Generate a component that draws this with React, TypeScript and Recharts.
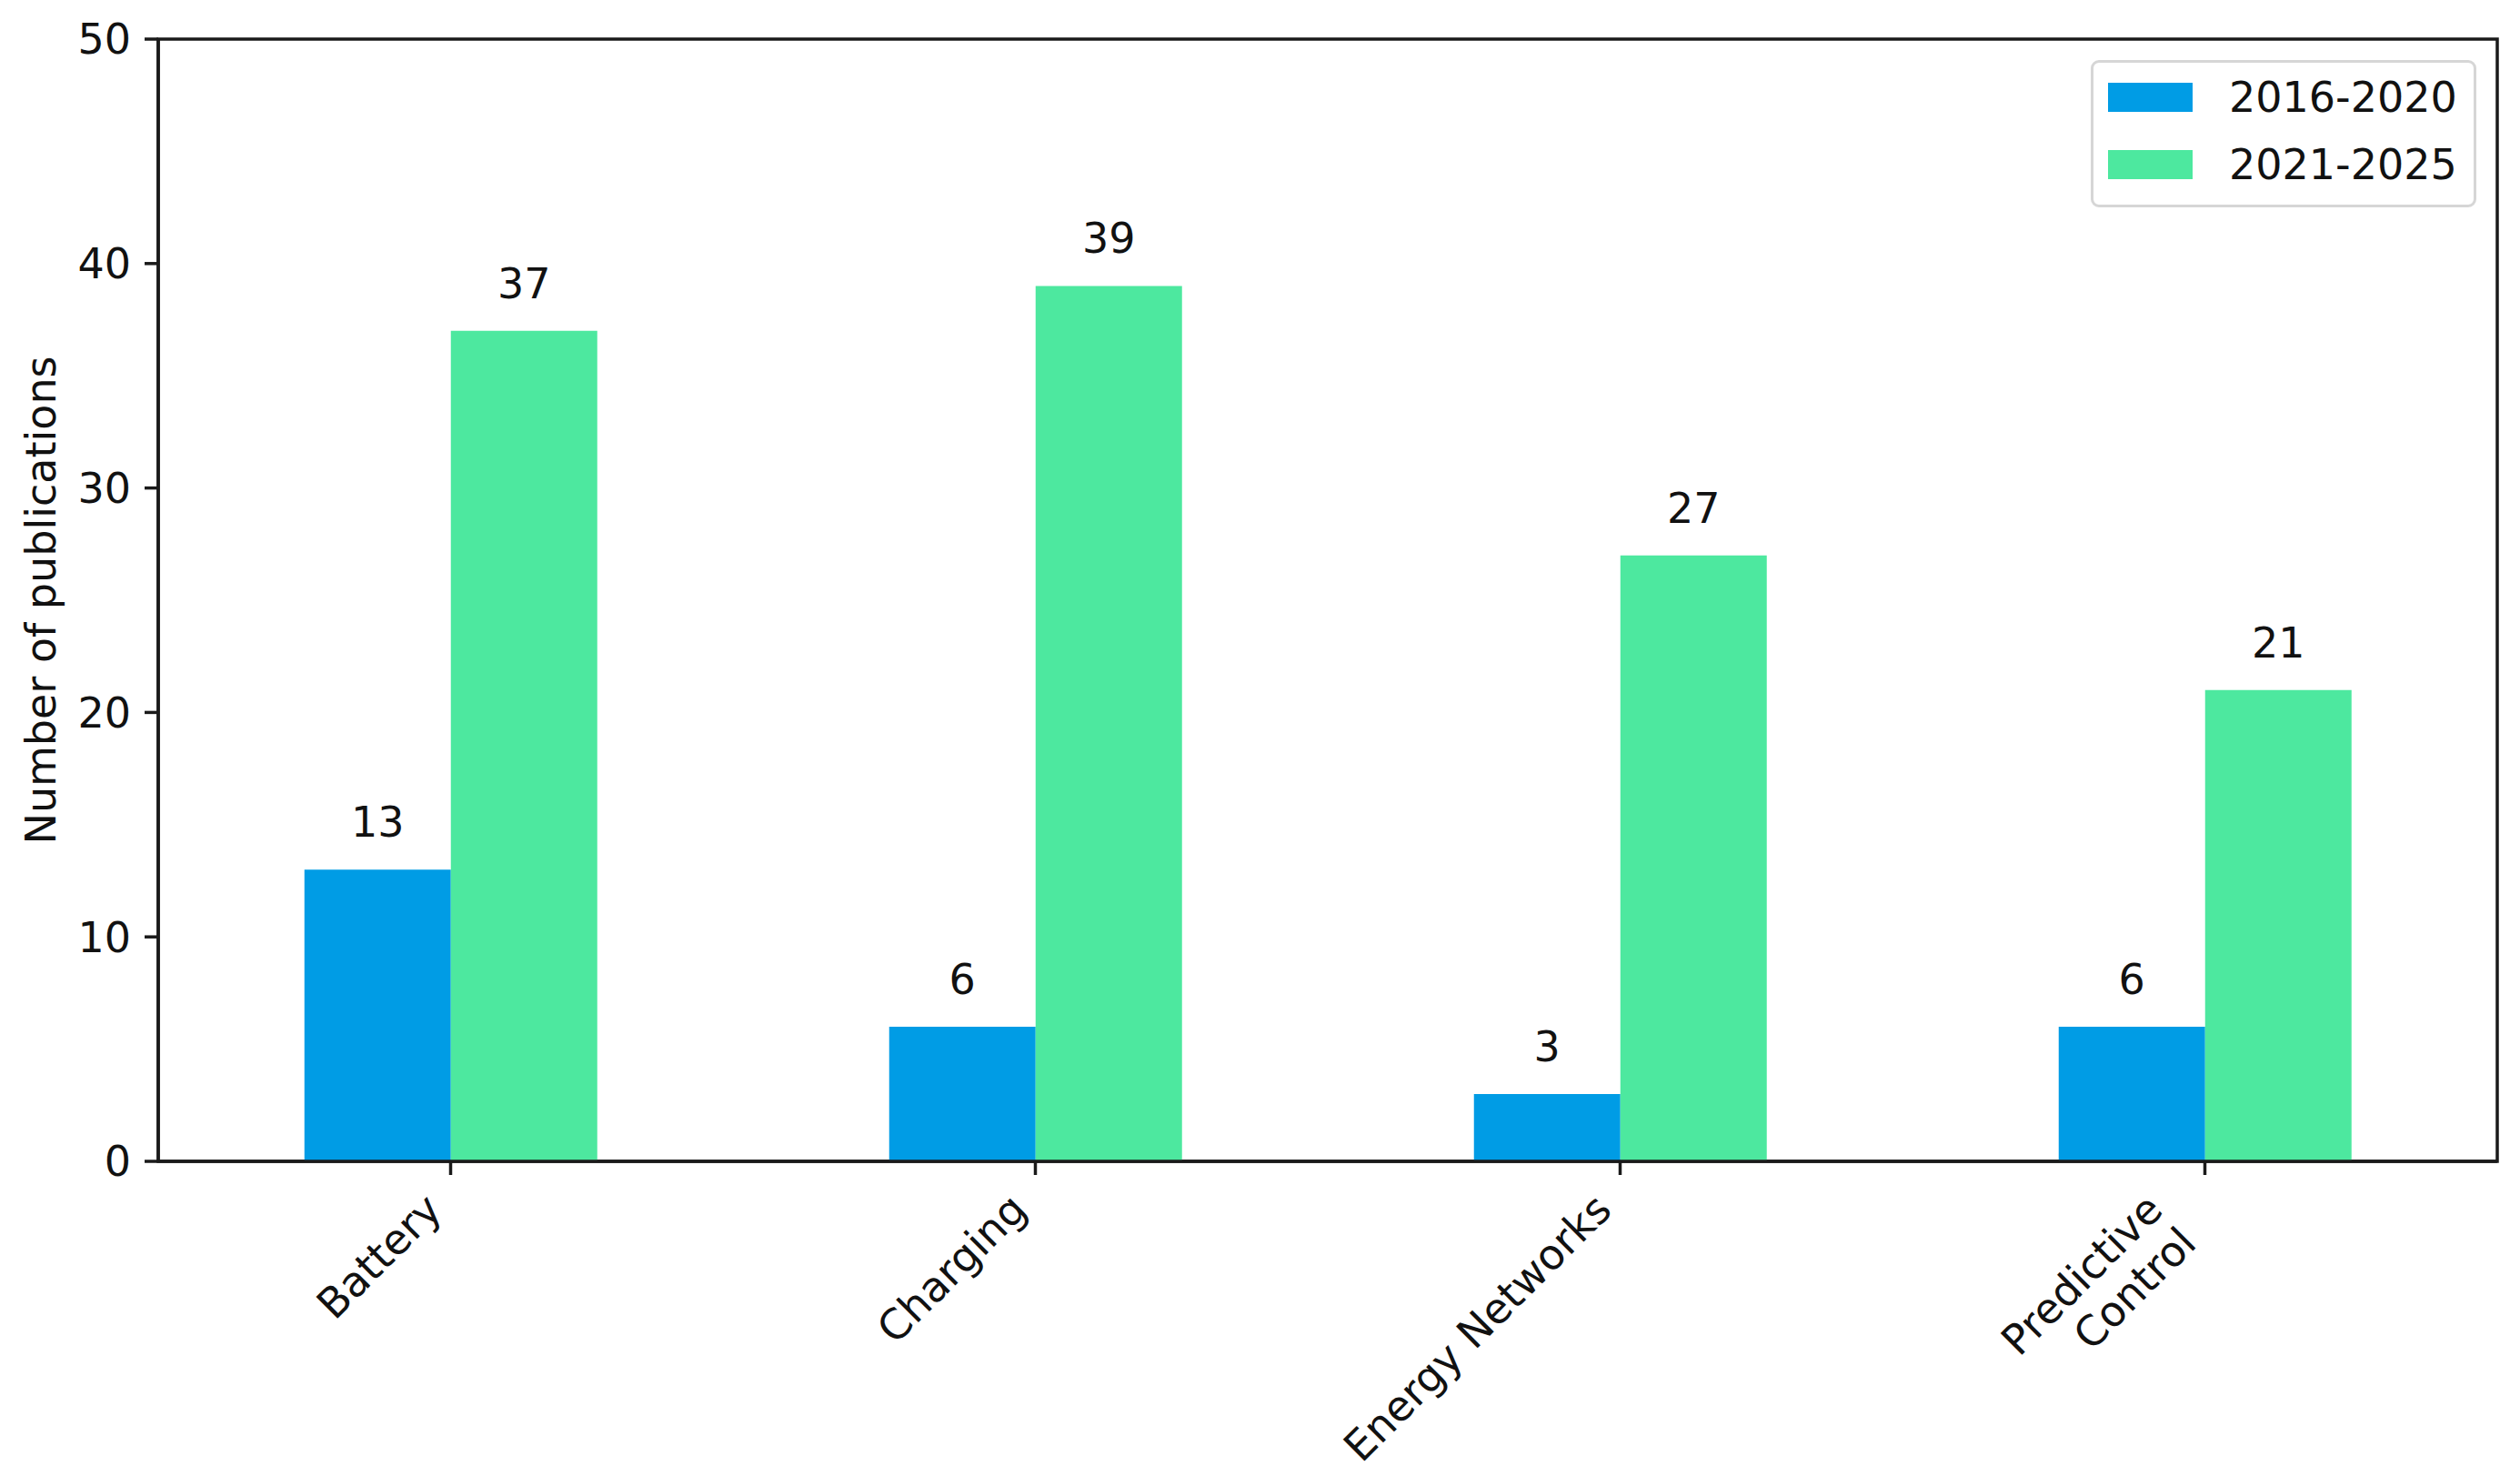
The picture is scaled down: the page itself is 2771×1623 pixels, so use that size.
import { BarChart, Bar, XAxis, YAxis, Legend, LabelList, ReferenceArea } from "recharts";

const categories = ["Battery", "Charging", "Energy Networks", "Predictive\nControl"];
const pubs2016to2020 = [13, 6, 3, 6];
const pubs2021to2025 = [37, 39, 27, 21];
const seriesNames = ["2016-2020", "2021-2025"];
const yTicks = [0, 10, 20, 30, 40, 50];

const COLORS = ["#009ce5", "#4de89f"];
const FONT = "'DejaVu Sans', sans-serif";
const FS = 46;
const AXIS = "#1a1a1a";

const data = categories.map((c, i) => ({
  category: c,
  early: pubs2016to2020[i],
  late: pubs2021to2025[i],
}));

// rotated, right-aligned tick text (matplotlib style rotation=45, ha=right)
function CategoryTick(props: any) {
  const { x, y, payload } = props;
  const lines = String(payload.value).split("\n");
  const lh = 52;
  const c = Math.SQRT1_2;
  const px = x - c * 0.22 * FS - c * lh * (lines.length - 1);
  const py = y + c * 0.76 * FS;
  return (
    <text
      x={px}
      y={py}
      transform={`rotate(-45 ${px} ${py})`}
      textAnchor="end"
      fontFamily={FONT}
      fontSize={FS}
      fill="#111"
    >
      {lines.map((l, i) => (
        <tspan key={i} x={px} dy={i === 0 ? 0 : lh}>{l}</tspan>
      ))}
    </text>
  );
}

function YLabel(props: any) {
  const vb = props.viewBox || { y: 43, height: 1234 };
  const cy = vb.y + vb.height / 2;
  return (
    <text
      x={61}
      y={cy}
      transform={`rotate(-90 61 ${cy})`}
      textAnchor="middle"
      fontFamily={FONT}
      fontSize={FS}
      fill="#111"
    >
      Number of publications
    </text>
  );
}

function LegendBox(props: any) {
  const items = props.payload || [];
  return (
    <div
      style={{
        boxSizing: "border-box",
        width: 424,
        height: 162,
        border: "3px solid #d6d6d6",
        borderRadius: 9,
        background: "#fff",
        padding: "1px 0 0 16px",
        fontFamily: FONT,
        fontSize: FS,
        color: "#111",
      }}
    >
      {items.map((it: any) => (
        <div key={it.value} style={{ display: "flex", alignItems: "center", height: 74 }}>
          <span style={{ display: "inline-block", width: 93, height: 32, background: it.color, marginRight: 40 }} />
          <span style={{ lineHeight: 1 }}>{it.value}</span>
        </div>
      ))}
    </div>
  );
}

export default function App() {
  return (
    <div style={{ position: "absolute", left: 0, top: 0, width: 2771, height: 1623, background: "#fff" }}>
      <BarChart
        width={2771}
        height={1623}
        data={data}
        margin={{ top: 43, right: 25, bottom: 0, left: 0 }}
        barCategoryGap="25%"
        barGap={0}
      >
        <XAxis
          dataKey="category"
          interval={0}
          height={346}
          tick={<CategoryTick />}
          tickSize={15}
          tickMargin={16}
          axisLine={{ stroke: AXIS, strokeWidth: 3.5 }}
          tickLine={{ stroke: AXIS, strokeWidth: 3.5 }}
        />
        <YAxis
          width={174}
          domain={[0, 50]}
          ticks={yTicks}
          tickSize={15}
          tickMargin={15}
          tick={{ fontFamily: FONT, fontSize: FS, fill: "#111" }}
          axisLine={{ stroke: AXIS, strokeWidth: 3.5 }}
          tickLine={{ stroke: AXIS, strokeWidth: 3.5 }}
          label={<YLabel />}
        />
        <Legend
          layout="horizontal"
          verticalAlign="middle"
          align="center"
          content={<LegendBox />}
          wrapperStyle={{ left: 2299, top: 66, width: 424, height: 162 }}
        />
        <Bar dataKey="early" name={seriesNames[0]} fill={COLORS[0]} isAnimationActive={false}>
          <LabelList dataKey="early" position="top" offset={36} fontFamily={FONT} fontSize={FS} fill="#111" />
        </Bar>
        <Bar dataKey="late" name={seriesNames[1]} fill={COLORS[1]} isAnimationActive={false}>
          <LabelList dataKey="late" position="top" offset={36} fontFamily={FONT} fontSize={FS} fill="#111" />
        </Bar>
        {/* frame: top and right spines */}
        <ReferenceArea
          y1={0}
          y2={50}
          fill="none"
          fillOpacity={0}
          stroke={AXIS}
          strokeWidth={3.5}
          strokeOpacity={1}
        />
      </BarChart>
    </div>
  );
}
